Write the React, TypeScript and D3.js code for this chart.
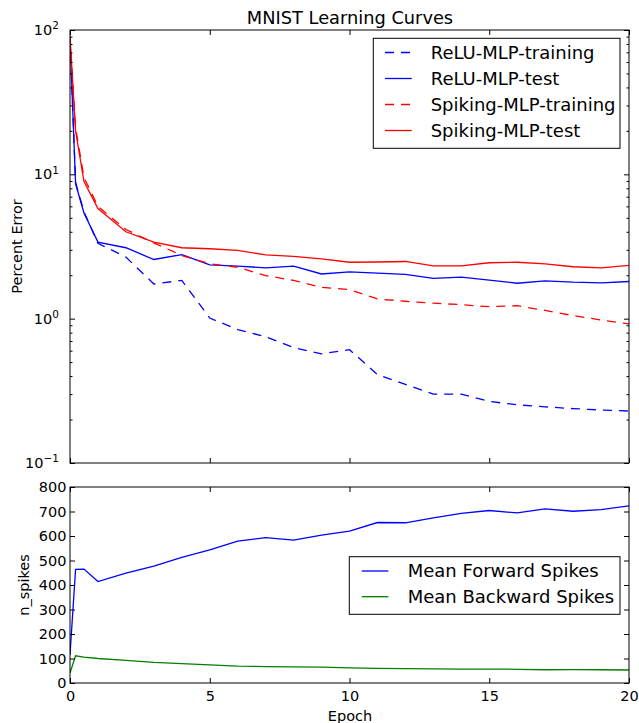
import { useEffect, useRef } from "react";
import * as d3 from "d3";

const FONT = "DejaVu Sans";

const EPOCHS = [0, 0.2, 0.5, 1, 2, 3, 4, 5, 6, 7, 8, 9, 10, 11, 12, 13, 14, 15, 16, 17, 18, 19, 20];

const RELU_TRAIN = [88, 8.8, 5.5, 3.33, 2.67, 1.74, 1.84, 1.01, 0.84, 0.75, 0.63, 0.57, 0.61, 0.41, 0.35, 0.3, 0.3, 0.267, 0.253, 0.245, 0.238, 0.233, 0.229];
const RELU_TEST = [88, 8.6, 5.4, 3.39, 3.1, 2.57, 2.78, 2.36, 2.31, 2.25, 2.31, 2.04, 2.11, 2.07, 2.03, 1.9, 1.94, 1.85, 1.76, 1.83, 1.79, 1.77, 1.81];
const SPIKING_TRAIN = [90, 21, 9.5, 6.0, 4.15, 3.35, 2.74, 2.4, 2.27, 1.99, 1.84, 1.65, 1.59, 1.37, 1.32, 1.28, 1.25, 1.21, 1.23, 1.14, 1.05, 0.98, 0.92];
const SPIKING_TEST = [90, 20, 8.9, 5.8, 4.0, 3.39, 3.1, 3.05, 2.97, 2.77, 2.7, 2.6, 2.46, 2.47, 2.49, 2.32, 2.32, 2.44, 2.46, 2.4, 2.29, 2.25, 2.34];

const FORWARD_SPIKES = [115, 464, 465, 414, 448, 477, 513, 543, 579, 593, 583, 604, 620, 655, 654, 674, 692, 704, 694, 711, 701, 708, 723];
const BACKWARD_SPIKES = [41, 111, 106, 100, 92, 84, 79, 74, 69, 67, 66, 65, 62, 60, 59, 58, 57, 57, 56, 54, 55, 54, 53];

const ERROR_SERIES = [
  { name: "ReLU-MLP-training", values: RELU_TRAIN, color: "#0000ff", dashed: true },
  { name: "ReLU-MLP-test", values: RELU_TEST, color: "#0000ff", dashed: false },
  { name: "Spiking-MLP-training", values: SPIKING_TRAIN, color: "#ff0000", dashed: true },
  { name: "Spiking-MLP-test", values: SPIKING_TEST, color: "#ff0000", dashed: false },
];

const SPIKE_SERIES = [
  { name: "Mean Forward Spikes", values: FORWARD_SPIKES, color: "#0000ff", dashed: false },
  { name: "Mean Backward Spikes", values: BACKWARD_SPIKES, color: "#008000", dashed: false },
];

const X_TICKS = [0, 5, 10, 15, 20];
const LOG_MAJOR = [0.1, 1, 10, 100];
const SPIKE_TICKS = [0, 100, 200, 300, 400, 500, 600, 700, 800];

const LAYOUT = {
  width: 639,
  height: 723,
  left: 70,
  right: 629,
  top: { y0: 30, y1: 463 },
  bottom: { y0: 487, y1: 683 },
};

const DASH = "9,7";
const TICK = 5;
const MINOR = 2.5;
const LEGEND_FONT = 18;

function styleAxis(sel: any) {
  sel.select(".domain").remove();
  sel.selectAll("line").attr("stroke", "#000").attr("stroke-width", 1);
  sel.selectAll("text").attr("font-family", FONT).attr("font-size", 14.5).attr("fill", "#000");
}

function drawFrame(svg: any, y0: number, y1: number) {
  svg
    .append("rect")
    .attr("x", LAYOUT.left)
    .attr("y", y0)
    .attr("width", LAYOUT.right - LAYOUT.left)
    .attr("height", y1 - y0)
    .attr("fill", "none")
    .attr("stroke", "#000")
    .attr("stroke-width", 1);
}

function drawLines(svg: any, series: any[], x: any, y: any, clipId: string) {
  const line = d3
    .line<number>()
    .x((_d, i) => x(EPOCHS[i]))
    .y((d) => y(d));
  const g = svg.append("g").attr("clip-path", `url(#${clipId})`);
  series.forEach((s) => {
    g.append("path")
      .datum(s.values)
      .attr("fill", "none")
      .attr("stroke", s.color)
      .attr("stroke-width", 1.3)
      .attr("stroke-dasharray", s.dashed ? DASH : null)
      .attr("d", line);
  });
}

function drawLegend(svg: any, series: any[], box: any) {
  const g = svg.append("g");
  g.append("rect")
    .attr("x", box.x)
    .attr("y", box.y)
    .attr("width", box.w)
    .attr("height", box.h)
    .attr("fill", "#fff")
    .attr("stroke", "#000")
    .attr("stroke-width", 1);
  series.forEach((s, i) => {
    const cy = box.firstRow + i * box.step;
    g.append("line")
      .attr("x1", box.lineX)
      .attr("x2", box.lineX + 26.7)
      .attr("y1", cy)
      .attr("y2", cy)
      .attr("stroke", s.color)
      .attr("stroke-width", 1.3)
      .attr("stroke-dasharray", s.dashed ? DASH : null);
    g.append("text")
      .attr("x", box.textX)
      .attr("y", cy + 6.4)
      .attr("font-family", FONT)
      .attr("font-size", LEGEND_FONT)
      .text(s.name);
  });
}

function draw(svgEl: SVGSVGElement) {
  const svg = d3.select(svgEl);
  svg.selectAll("*").remove();
  const { left, right, top, bottom } = LAYOUT;

  const x = d3.scaleLinear().domain([0, 20]).range([left, right]);
  const yErr = d3.scaleLog().domain([0.1, 100]).range([top.y1, top.y0]);
  const ySpk = d3.scaleLinear().domain([0, 800]).range([bottom.y1, bottom.y0]);

  const defs = svg.append("defs");
  defs.append("clipPath").attr("id", "clipTop").append("rect")
    .attr("x", left).attr("y", top.y0).attr("width", right - left).attr("height", top.y1 - top.y0);
  defs.append("clipPath").attr("id", "clipBottom").append("rect")
    .attr("x", left).attr("y", bottom.y0).attr("width", right - left).attr("height", bottom.y1 - bottom.y0);

  // ---- top panel: error on log scale ----
  drawLines(svg, ERROR_SERIES, x, yErr, "clipTop");

  const minor = yErr.ticks().filter((v: number) => !LOG_MAJOR.some((m) => Math.abs(m - v) < 1e-9));

  const leftMajor = svg.append("g").attr("transform", `translate(${left},0)`)
    .call(d3.axisLeft(yErr).tickValues(LOG_MAJOR).tickSizeInner(-TICK).tickSizeOuter(0).tickPadding(11).tickFormat(() => ""));
  styleAxis(leftMajor);
  leftMajor.selectAll(".tick text").each(function (this: any, d: any) {
    const t = d3.select(this);
    const exp = Math.round(Math.log10(d));
    t.append("tspan").text("10");
    t.append("tspan")
      .attr("font-size", 10.5)
      .attr("dy", "-0.55em")
      .text(exp < 0 ? `\u2212${-exp}` : `${exp}`);
  });
  styleAxis(svg.append("g").attr("transform", `translate(${left},0)`)
    .call(d3.axisLeft(yErr).tickValues(minor).tickSizeInner(-MINOR).tickSizeOuter(0).tickFormat(() => "")));
  styleAxis(svg.append("g").attr("transform", `translate(${right},0)`)
    .call(d3.axisRight(yErr).tickValues(LOG_MAJOR).tickSizeInner(-TICK).tickSizeOuter(0).tickFormat(() => "")));
  styleAxis(svg.append("g").attr("transform", `translate(${right},0)`)
    .call(d3.axisRight(yErr).tickValues(minor).tickSizeInner(-MINOR).tickSizeOuter(0).tickFormat(() => "")));
  styleAxis(svg.append("g").attr("transform", `translate(0,${top.y1})`)
    .call(d3.axisBottom(x).tickValues(X_TICKS).tickSizeInner(-TICK).tickSizeOuter(0).tickFormat(() => "")));
  styleAxis(svg.append("g").attr("transform", `translate(0,${top.y0})`)
    .call(d3.axisTop(x).tickValues(X_TICKS).tickSizeInner(-TICK).tickSizeOuter(0).tickFormat(() => "")));
  drawFrame(svg, top.y0, top.y1);

  // ---- bottom panel: spikes ----
  drawLines(svg, SPIKE_SERIES, x, ySpk, "clipBottom");
  styleAxis(svg.append("g").attr("transform", `translate(${left},0)`)
    .call(d3.axisLeft(ySpk).tickValues(SPIKE_TICKS).tickSizeInner(-TICK).tickSizeOuter(0).tickPadding(3.5).tickFormat(d3.format("d"))));
  styleAxis(svg.append("g").attr("transform", `translate(${right},0)`)
    .call(d3.axisRight(ySpk).tickValues(SPIKE_TICKS).tickSizeInner(-TICK).tickSizeOuter(0).tickFormat(() => "")));
  styleAxis(svg.append("g").attr("transform", `translate(0,${bottom.y1})`)
    .call(d3.axisBottom(x).tickValues(X_TICKS).tickSizeInner(-TICK).tickSizeOuter(0).tickPadding(7.5).tickFormat(d3.format("d"))));
  styleAxis(svg.append("g").attr("transform", `translate(0,${bottom.y0})`)
    .call(d3.axisTop(x).tickValues(X_TICKS).tickSizeInner(-TICK).tickSizeOuter(0).tickFormat(() => "")));
  drawFrame(svg, bottom.y0, bottom.y1);

  // ---- legends ----
  drawLegend(svg, ERROR_SERIES, { x: 373.3, y: 38.3, w: 246.7, h: 110, firstRow: 52.5, step: 26, lineX: 385, textX: 430.7 });
  drawLegend(svg, SPIKE_SERIES, { x: 349.3, y: 556.7, w: 270.7, h: 57.6, firstRow: 571, step: 25.7, lineX: 361.7, textX: 407.7 });

  // ---- labels ----
  svg.append("text").attr("x", 350).attr("y", 24).attr("text-anchor", "middle")
    .attr("font-family", FONT).attr("font-size", 17.8).text("MNIST Learning Curves");
  svg.append("text").attr("transform", "rotate(-90)").attr("x", -(top.y0 + top.y1) / 2).attr("y", 22)
    .attr("text-anchor", "middle").attr("font-family", FONT).attr("font-size", 14.5).text("Percent Error");
  svg.append("text").attr("transform", "rotate(-90)").attr("x", -(bottom.y0 + bottom.y1) / 2).attr("y", 29)
    .attr("text-anchor", "middle").attr("font-family", FONT).attr("font-size", 14.5).text("n_spikes");
  svg.append("text").attr("x", 350).attr("y", 720.5).attr("text-anchor", "middle")
    .attr("font-family", FONT).attr("font-size", 14.5).text("Epoch");
}

export default function App() {
  const ref = useRef<SVGSVGElement>(null);

  useEffect(() => {
    if (ref.current) draw(ref.current);
  }, []);

  return (
    <svg
      ref={ref}
      width={LAYOUT.width}
      height={LAYOUT.height}
      style={{ position: "absolute", left: 0, top: 0, background: "#fff" }}
    />
  );
}
